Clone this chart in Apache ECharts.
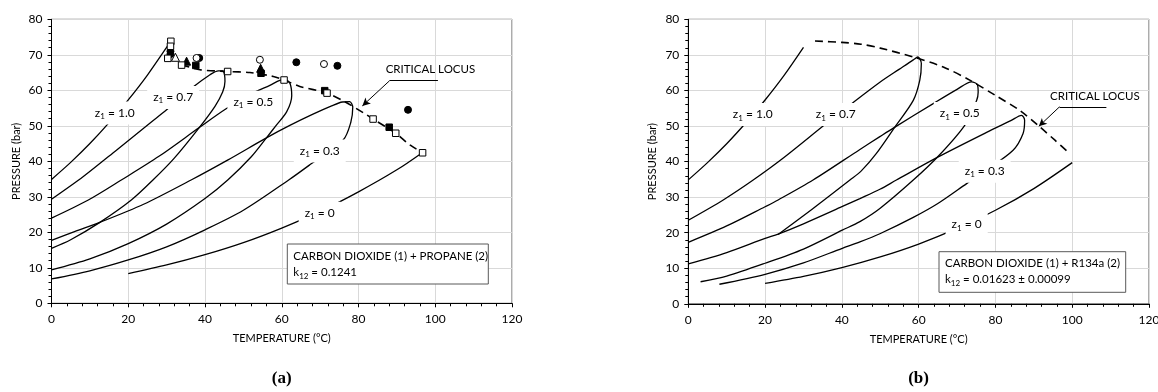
<!DOCTYPE html>
<html>
<head>
<meta charset="utf-8">
<script src="https://cdn.jsdelivr.net/npm/echarts@6/dist/echarts.min.js"></script>
<style>
  html, body { margin: 0; padding: 0; background: #fff; }
  #chart { width: 1158px; height: 392px; }
</style>
</head>
<body>
<div id="chart"></div>
<script>
// ---------- Panel (a): carbon dioxide (1) + propane (2), [T °C, P bar] ----------
const aEnvZ10 = [[0,34.9],[5,39.7],[10,45.0],[15,50.9],[20,57.3],[25,64.3],[30,72.1],[30.9,73.5]];
const aEnvZ07 = [[0,29.3],[8.3,35.7],[17,43.2],[25.7,50.8],[30,54.5],[36.9,60.9],[41.3,64.4],[43.5,65.5],[44.6,65.5],
                 [45.1,64.3],[45.2,62.5],[44.6,59.5],[42.6,55.5],[38.5,49.5],[32,40.9],[26.5,34.8],[20.8,29.1],[12.6,22.8],[5,17.9],[0,15.5]];
const aEnvZ05 = [[0,24.0],[9.6,29.1],[18.3,34.8],[28,41.4],[38.5,49.5],[45.5,54.8],[52.6,59.3],[56.9,61.4],[59.5,62.8],[61,63.0],
                 [62.2,61.8],[62.6,58.5],[61.3,54],[58.6,50.2],[56,46.6],[52,41.2],[46,34.8],[40,29.5],[30,22.3],[20,16.8],[10,12.5],[0,9.4]];
const aEnvZ03 = [[0,17.7],[6,20.2],[12.6,22.8],[24,27.9],[36.5,34.8],[46,40.4],[56,46.6],[62.1,50.1],[68,53.2],[73,55.6],[75.8,56.7],[77.7,56.8],
                 [78.5,55.2],[78,51],[76,46],[67.3,39],[61.9,34.8],[50,26.2],[40,20.7],[30,15.9],[20,12.2],[10,9.15],[0,6.85]];
const aEnvZ00 = [[20,8.36],[30,10.8],[40,13.7],[50,17.1],[60,21.2],[70,25.9],[80,31.4],[90,37.6],[96.7,42.5]];
const aCritLocus = [[33.9,67.2],[38.7,65.8],[45.9,65.3],[51.7,65.0],[57.8,63.9],[60.6,62.9],[64.7,61.1],[71.8,59.2],
                    [76.4,56.8],[82.1,53.1],[83.8,51.9],[89.7,47.9],[93.4,44.6],[96.7,42.4]];
const aOpenSquares   = [[31.1,73.8],[31.0,72.4],[30.3,69.0],[33.9,67.1],[45.9,65.3],[60.6,62.9],[71.8,59.2],[83.8,51.9],[89.7,47.9],[96.7,42.4]];
const aFilledCircles = [[31.0,71.0],[31.0,70.2],[38.5,69.1],[63.8,67.9],[74.5,66.9],[92.9,54.5]];
const aOpenCircles   = [[37.8,69.1],[54.3,68.6],[71.0,67.4]];
const aFilledTris    = [[35.2,68.2],[54.5,66.2]];
const aOpenTris      = [[32.3,69.3]];
const aFilledSquares = [[37.6,67.0],[54.6,64.8],[71.2,59.9],[88.0,49.6]];
const aCurveLabels   = [['1.0',16.5,53.6],['0.7',31.7,58.0],['0.5',52.6,56.6],['0.3',69.9,42.9],['0',69.9,25.4]];
const aLocusText     = [98.75,65.8];
const aLocusLeader   = [[100.7,62.7],[88.1,62.7],[81.0,55.6]];

// ---------- Panel (b): carbon dioxide (1) + R134a (2) ----------
const bEnvZ10 = [[0,34.85],[5,39.7],[10,45.0],[15,50.9],[20,57.3],[25,64.3],[30,72.1]];
const bEnvZ07 = [[0,23.5],[9.1,29.2],[16.9,34.8],[25,41.2],[35.6,50.4],[42.1,55.9],[49.9,62.3],[55,66.0],[58.6,68.6],[59.8,69.4],
                 [60.7,67.6],[60.3,62.9],[58.6,57.2],[53.8,49.7],[49,42.3],[45,37.3],[42.1,34.8],[32.5,26.8],[23.4,19.5]];
const bEnvZ05 = [[0,17.3],[10,21.9],[20,27.3],[23.4,29.2],[32.5,34.8],[44.7,43.4],[49.9,47.0],[53.4,49.4],[63.8,56.3],[70,60.3],[73.8,62.4],
                 [75.3,61.6],[75.5,59.5],[75.1,57.2],[72,50.2],[65.1,41.5],[58.6,34.8],[49.9,26.8],[44.7,23.1],[40.1,20.7],[30,15.4],[20,11.4],[10,7.8],[3.2,6.2]];
const bEnvZ03 = [[0,11.2],[10,14.4],[20,18.4],[23.4,19.6],[30,22.5],[40,27.3],[44.7,29.6],[49.9,32.2],[54.2,34.8],[65.1,41.3],[77.7,48.2],[84,51.5],[86.8,53.0],
                 [87.6,51.6],[87.2,47.9],[84.6,43.2],[77.2,37.3],[72.5,33.8],[65,28.2],[58.6,24.3],[49.9,19.7],[44.7,17.4],[40.1,15.6],[30,11.5],[20,8.3],[8.1,5.5]];
const bEnvZ00 = [[20,5.72],[30,7.7],[40,10.17],[50,13.18],[60,16.8],[70,21.2],[80,26.3],[90,32.4],[100,39.7]];
const bCritLocus = [[33,73.9],[40,73.5],[45,73.0],[50,71.9],[58.6,69.4],[66.4,66.6],[73.3,62.9],[80,58.6],[86.3,54.4],[91.5,49.8],[95.5,46.0],[99.3,42.3]];
const bCurveLabels = [['1.0',16.8,53.2],['0.7',38.4,53.2],['0.5',70.7,53.5],['0.3',77.2,37.3],['0',72.5,22.3]];
const bLocusText   = [105.9,58.4];
const bLocusLeader = [[108.9,55.4],[96.7,55.4],[91.3,49.9]];

// ---------- axes ----------
const T_MIN = 0, T_MAX = 120, T_STEP = 20;
const P_MIN = 0, P_MAX = 80, P_STEP = 10;

const FONT = 'Lato, "Noto Sans", sans-serif';
const INK = '#000';

function xAxis(gi) {
  return {
    gridIndex: gi, type: 'value', min: T_MIN, max: T_MAX, interval: T_STEP,
    name: 'TEMPERATURE (°C)', nameLocation: 'middle', nameGap: 30,
    nameTextStyle: { fontFamily: FONT, fontSize: 11, color: INK },
    axisLine: { show: true, onZero: false, lineStyle: { color: INK, width: 1 } },
    axisTick: { show: true, inside: false, length: 4, lineStyle: { color: INK } },
    minorTick: { show: true, splitNumber: 5, length: 3, lineStyle: { color: INK } },
    splitLine: { show: true, lineStyle: { color: '#d9d9d9', width: 1 } },
    axisLabel: { fontFamily: FONT, fontSize: 12, color: INK, margin: 10 }
  };
}
function yAxis(gi) {
  return {
    gridIndex: gi, type: 'value', min: P_MIN, max: P_MAX, interval: P_STEP,
    name: 'PRESSURE (bar)', nameLocation: 'middle', nameGap: 30, nameRotate: 90,
    nameTextStyle: { fontFamily: FONT, fontSize: 11, color: INK },
    axisLine: { show: true, onZero: false, lineStyle: { color: INK, width: 1 } },
    axisTick: { show: true, inside: false, length: 4, lineStyle: { color: INK } },
    minorTick: { show: true, splitNumber: 5, length: 3, lineStyle: { color: INK } },
    splitLine: { show: true, lineStyle: { color: '#d9d9d9', width: 1 } },
    axisLabel: { fontFamily: FONT, fontSize: 12, color: INK, margin: 9 }
  };
}

// ---------- series builders ----------
function curve(gi, data, dashed) {
  return {
    type: 'line', xAxisIndex: gi, yAxisIndex: gi, data: data,
    showSymbol: false, symbol: 'none', smooth: 0.3, z: 2, silent: true,
    lineStyle: dashed ? { color: INK, width: 1.6, type: [8, 5] } : { color: INK, width: 1.3 }
  };
}
function markers(gi, data, symbol, filled, size) {
  return {
    type: 'scatter', xAxisIndex: gi, yAxisIndex: gi, data: data, symbol: symbol,
    symbolSize: size, z: 4, silent: true,
    itemStyle: { color: filled ? INK : '#fff', borderColor: INK, borderWidth: 1, opacity: 1 }
  };
}
const SUB_RICH = {
  m: { fontFamily: FONT, fontSize: 12, fill: INK, lineHeight: 15, verticalAlign: 'middle' },
  s: { fontFamily: FONT, fontSize: 8, fill: INK, lineHeight: 15, verticalAlign: 'bottom', padding: [7, 0, 0, 0] }
};
// "z1 = …" tags: white boxes placed at data coordinates, covering the curves beneath
function curveLabels(gi, rows) {
  return {
    type: 'custom', xAxisIndex: gi, yAxisIndex: gi, z: 6, silent: true,
    data: rows.map(r => [r[1], r[2]]),
    renderItem: (params, api) => {
      const p = api.coord([api.value(0), api.value(1)]);
      return {
        type: 'text', x: p[0], y: p[1],
        style: {
          text: '{m|z}{s|1}{m| = ' + rows[params.dataIndex][0] + '}',
          rich: SUB_RICH, align: 'center', verticalAlign: 'middle',
          backgroundColor: '#fff', padding: [4, 6]
        }
      };
    }
  };
}
function locusNote(gi, textPos, leader) {
  return {
    type: 'custom', xAxisIndex: gi, yAxisIndex: gi, z: 5, silent: true,
    data: [textPos],
    renderItem: (params, api) => {
      const p = api.coord([api.value(0), api.value(1)]);
      return {
        type: 'text', x: p[0], y: p[1],
        style: { text: 'CRITICAL LOCUS', font: '11.5px ' + FONT, fill: INK, align: 'center', verticalAlign: 'middle' }
      };
    },
    markLine: {
      silent: true, animation: false, symbol: ['none', 'none'],
      lineStyle: { color: INK, width: 1, type: 'solid' }, label: { show: false },
      data: [
        [{ coord: leader[0] }, { coord: leader[1] }],
        [{ coord: leader[1] }, { coord: leader[2], symbol: 'arrow', symbolSize: [6, 8] }]
      ]
    }
  };
}

const GRID_A = { left: 51.5, top: 19.3, width: 460.5, height: 284 };
const GRID_B = { left: 688.3, top: 19.3, width: 460.7, height: 284.5 };
function grid(g) {
  return Object.assign({ show: true, borderColor: '#595959', borderWidth: 1, backgroundColor: 'transparent',
                         containLabel: false, outerBoundsMode: 'none' }, g);
}

function noteBox(x, y, w, h, line1, k12) {
  return [
    { type: 'rect', shape: { x: x, y: y, width: w, height: h }, z: 20,
      style: { fill: '#fff', stroke: '#595959', lineWidth: 1 } },
    { type: 'text', x: x + 6, y: y + 4, z: 21,
      style: { text: '{m|' + line1 + '}\n{m|k}{s|12}{m| = ' + k12 + '}', fill: INK,
               rich: { m: { fontFamily: FONT, fontSize: 11.5, lineHeight: 16, verticalAlign: 'middle' },
                       s: { fontFamily: FONT, fontSize: 8, lineHeight: 16, verticalAlign: 'bottom', padding: [7, 0, 0, 0] } } } }
  ];
}

const chart = echarts.init(document.getElementById('chart'), null, { renderer: 'canvas' });
chart.setOption({
  animation: false,
  backgroundColor: '#fff',
  grid: [grid(GRID_A), grid(GRID_B)],
  xAxis: [xAxis(0), xAxis(1)],
  yAxis: [yAxis(0), yAxis(1)],
  series: [
    curve(0, aEnvZ10), curve(0, aEnvZ07), curve(0, aEnvZ05), curve(0, aEnvZ03), curve(0, aEnvZ00),
    curve(0, aCritLocus, true),
    markers(0, aFilledCircles, 'circle', true, 7),
    markers(0, aOpenCircles, 'circle', false, 7),
    markers(0, aFilledTris, 'triangle', true, 8),
    markers(0, aOpenTris, 'triangle', false, 8),
    markers(0, aFilledSquares, 'rect', true, 6.5),
    markers(0, aOpenSquares, 'rect', false, 6.5),
    curveLabels(0, aCurveLabels),
    locusNote(0, aLocusText, aLocusLeader),

    curve(1, bEnvZ10), curve(1, bEnvZ07), curve(1, bEnvZ05), curve(1, bEnvZ03), curve(1, bEnvZ00),
    curve(1, bCritLocus, true),
    curveLabels(1, bCurveLabels),
    locusNote(1, bLocusText, bLocusLeader)
  ],
  graphic: [
    ...noteBox(287.3, 244, 201, 40, 'CARBON DIOXIDE (1) + PROPANE (2)', '0.1241'),
    ...noteBox(939, 251.7, 186.7, 40.6, 'CARBON DIOXIDE (1) + R134a (2)', '0.01623 ± 0.00099'),
    { type: 'text', x: 281.7, y: 379, z: 20,
      style: { text: '(a)', font: 'bold 17px "Liberation Serif", serif', fill: INK, align: 'center', verticalAlign: 'middle' } },
    { type: 'text', x: 918.6, y: 379, z: 20,
      style: { text: '(b)', font: 'bold 17px "Liberation Serif", serif', fill: INK, align: 'center', verticalAlign: 'middle' } }
  ]
});
</script>
</body>
</html>
